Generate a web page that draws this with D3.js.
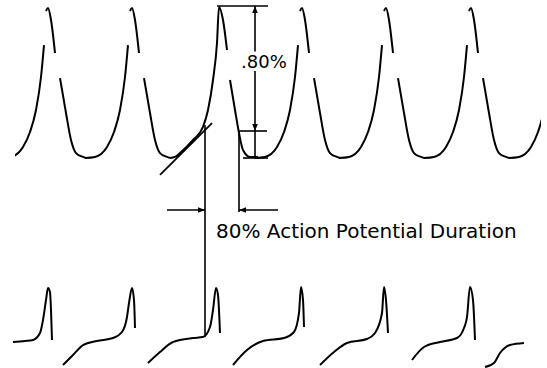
<!DOCTYPE html>
<html>
<head>
<meta charset="utf-8">
<script src="https://cdn.jsdelivr.net/npm/d3@7"></script>
<style>
  body { margin: 0; background: #fff; }
  svg { display: block; }
</style>
</head>
<body>
<div id="chart"></div>
<script>
// upper trace, values in % of AP amplitude (0 = trough, 100 = peak), time in ms
const apPeaks = [480, 1320, 3020, 3860, 4710, 5560];
// one beat relative to its peak, null = faint part of the trace
const apShape = [
  [-470, 0], [-370, 0.7], [-250, 7.3], [-180, 17.3], [-120, 32], [-70, 54], [-40, 75.3],
  [-30, null], [-20, 98], [0, 100], [30, 92], [70, 70], [90, null],
  [120, 53.3], [180, 30], [230, 12], [280, 3.3], [350, 0.7], [380, 0]
];
// the beat used for the measurement
const markedBeat = [
  [1700, 0], [1750, 0.7], [1800, 3.3], [1930, 12], [2030, 20.7], [2080, 32], [2130, 52],
  [2170, 76.7], [2190, 100.7], [2230, 92], [2270, 72], [2285, null], [2300, 52],
  [2350, 32], [2390, 16.7], [2430, 5.3], [2500, 0.7], [2580, 0.7]
];
const tangent = [[1600, -11.3], [2120, 23.3]];

// lower trace, % of spike height
const lowerBeats = [
  [[130, 29.5], [250, 30.8], [330, 32.1], [400, 41], [430, 57.7], [460, 83.3], [480, 98.7], [500, 93.6], [510, 70.5], [520, 32.1]],
  [[630, 0], [730, 12.8], [830, 25.6], [970, 30.8], [1130, 34.6], [1220, 42.3], [1270, 61.5], [1290, 79.5], [1320, 98.7], [1340, 83.3], [1350, 47.4]],
  [[1480, 2.6], [1600, 16.7], [1730, 29.5], [1930, 34.6], [2030, 35.9], [2100, 48.7], [2130, 70.5], [2160, 98.7], [2180, 89.7], [2200, 41]],
  [[2330, 0], [2470, 19.2], [2630, 30.8], [2840, 34.6], [2940, 42.3], [2990, 66.7], [3010, 100], [3030, 83.3], [3040, 48.7]],
  [[3200, 0], [3340, 16.7], [3470, 28.2], [3670, 33.3], [3750, 41], [3820, 66.7], [3840, 100], [3860, 83.3], [3880, 41]],
  [[4120, 6.4], [4240, 23.1], [4400, 29.5], [4570, 34.6], [4640, 47.4], [4670, 61.5], [4700, 100], [4730, 83.3], [4750, 32.1]],
  [[4850, -2.6], [4940, 2.6], [5000, 15.4], [5100, 25.6], [5240, 28.2]]
];

// measurement
const peakLevel = 101.3;
const apd80Level = 18;
const apdStart = 2050;
const apdEnd = 2390;
const dimTime = 2550;
const pctLabel = ".80%";
const apdLabel = "80% Action Potential Duration";

const width = 547, height = 368;

const svg = d3.select('#chart').append('svg')
  .attr('width', width)
  .attr('height', height);

svg.append('rect').attr('width', width).attr('height', height).attr('fill', '#fff');

const x = d3.scaleLinear().domain([0, 5470]).range([0, width]);
const yTop = d3.scaleLinear().domain([0, 100]).range([158, 8]);
const yBot = d3.scaleLinear().domain([0, 100]).range([365, 287]);

svg.append('clipPath').attr('id', 'clipTop')
  .append('rect')
  .attr('x', x(150)).attr('y', 0)
  .attr('width', x(5410) - x(150)).attr('height', 200);

const defs = svg.append('defs');
defs.append('marker')
  .attr('id', 'arrow')
  .attr('viewBox', '0 0 10 10')
  .attr('refX', 10).attr('refY', 5)
  .attr('markerWidth', 7).attr('markerHeight', 7)
  .attr('markerUnits', 'userSpaceOnUse')
  .attr('orient', 'auto')
  .append('path')
  .attr('d', 'M0,1 L10,5 L0,9 Z')
  .attr('fill', '#000');

const topLine = d3.line()
  .defined(d => d[1] != null)
  .x(d => x(d[0]))
  .y(d => yTop(d[1]))
  .curve(d3.curveMonotoneX);

const botLine = d3.line()
  .x(d => x(d[0]))
  .y(d => yBot(d[1]))
  .curve(d3.curveMonotoneX);

const upper = svg.append('g').attr('clip-path', 'url(#clipTop)');

upper.selectAll('path.beat')
  .data(apPeaks.map(p => apShape.map(d => [p + d[0], d[1]])))
  .join('path')
  .attr('class', 'beat')
  .attr('d', topLine)
  .attr('fill', 'none')
  .attr('stroke', '#000')
  .attr('stroke-width', 2);

upper.append('path')
  .datum(markedBeat)
  .attr('d', topLine)
  .attr('fill', 'none')
  .attr('stroke', '#000')
  .attr('stroke-width', 2);

svg.append('path')
  .datum(tangent)
  .attr('d', d3.line().x(d => x(d[0])).y(d => yTop(d[1])))
  .attr('stroke', '#000')
  .attr('stroke-width', 1.8);

svg.selectAll('path.lower')
  .data(lowerBeats)
  .join('path')
  .attr('class', 'lower')
  .attr('d', botLine)
  .attr('fill', 'none')
  .attr('stroke', '#000')
  .attr('stroke-width', 2);

// annotation lines
const ann = svg.append('g').attr('stroke', '#000').attr('stroke-width', 1.6).attr('fill', 'none');

function seg(x1, y1, x2, y2, arrow) {
  const l = ann.append('line')
    .attr('x1', x1).attr('y1', y1)
    .attr('x2', x2).attr('y2', y2);
  if (arrow) l.attr('marker-end', 'url(#arrow)');
  return l;
}

// level lines
seg(x(2170), yTop(peakLevel), x(2680), yTop(peakLevel));
seg(x(2380), yTop(apd80Level), x(2670), yTop(apd80Level));
seg(x(2430), yTop(0), x(2680), yTop(0));

// vertical dimension, broken round the label
seg(x(dimTime), yTop(71), x(dimTime), yTop(peakLevel), true);
seg(x(dimTime), yTop(58), x(dimTime), yTop(apd80Level), true);
seg(x(dimTime), yTop(apd80Level), x(dimTime), yTop(0));

// extension lines
seg(x(apdStart), yTop(22), x(apdStart), yBot(36));
seg(x(apdEnd), yTop(apd80Level), x(apdEnd), yTop(-36));

// horizontal duration dimension
const dimLevel = -34.7;
seg(x(1670), yTop(dimLevel), x(apdStart), yTop(dimLevel), true);
seg(x(2780), yTop(dimLevel), x(apdEnd), yTop(dimLevel), true);

svg.append('text')
  .attr('x', x(2410))
  .attr('y', yTop(60))
  .attr('font-family', 'DejaVu Sans, sans-serif')
  .attr('font-size', 18)
  .attr('fill', '#000')
  .text(pctLabel);

svg.append('text')
  .attr('x', x(2160))
  .attr('y', yTop(-53.3))
  .attr('font-family', 'DejaVu Sans, sans-serif')
  .attr('font-size', 20)
  .attr('fill', '#000')
  .text(apdLabel);
</script>
</body>
</html>
